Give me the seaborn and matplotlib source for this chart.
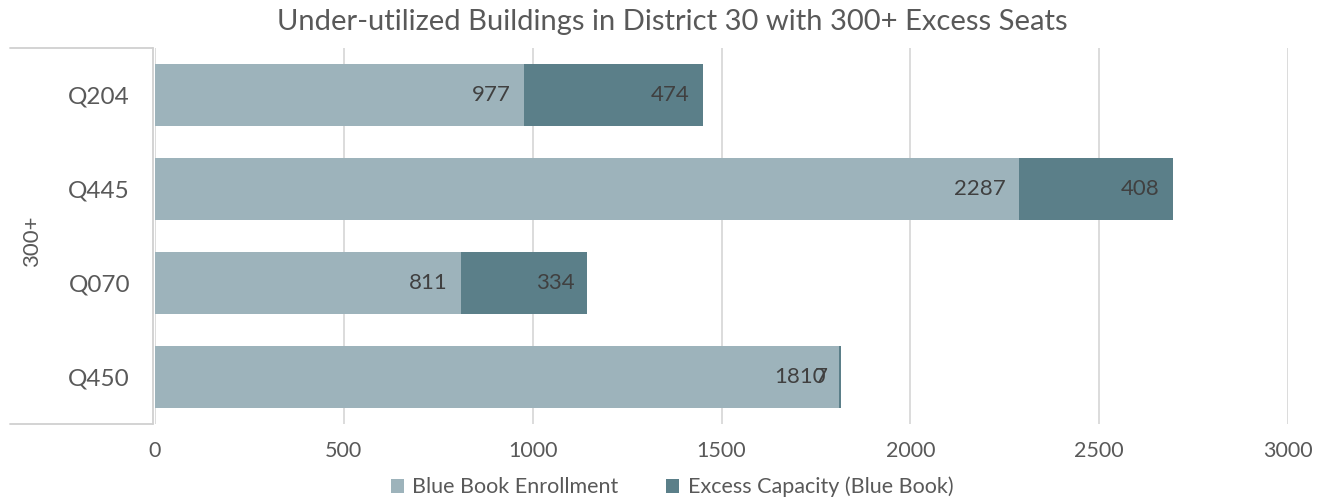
import matplotlib
matplotlib.use("Agg")
import matplotlib.pyplot as plt
import seaborn as sns
import pandas as pd
from matplotlib.lines import Line2D
from matplotlib.patches import Patch

schools = ["Q204", "Q445", "Q070", "Q450"]
enrollment = [977, 2287, 811, 1810]
excess = [474, 408, 334, 7]
group_label = "300+"
title = "Under-utilized Buildings in District 30 with 300+ Excess Seats"
series_names = ["Blue Book Enrollment", "Excess Capacity (Blue Book)"]
xticks = [0, 500, 1000, 1500, 2000, 2500, 3000]

light = "#9DB3BB"
dark = "#5B7F89"
grey_text = "#595959"
label_text = "#404040"
grid_col = "#D9D9D9"

sns.set_theme(style="white")
plt.rcParams["font.family"] = ["Lato", "DejaVu Sans"]

df = pd.DataFrame({"school": schools, "enrollment": enrollment, "excess": excess})
df["total"] = df["enrollment"] + df["excess"]

W, H = 1322, 504
fig = plt.figure(figsize=(W / 100, H / 100), dpi=100)
ax = fig.add_axes([155 / W, 1 - 424 / H, (1288 - 155) / W, (424 - 48) / H])

sns.barplot(data=df, y="school", x="total", color=dark, saturation=1, width=0.66,
            orient="h", ax=ax, order=schools, linewidth=0, edgecolor="none")
sns.barplot(data=df, y="school", x="enrollment", color=light, saturation=1, width=0.66,
            orient="h", ax=ax, order=schools, linewidth=0, edgecolor="none")

ax.set_xlim(0, 3000)
ax.set_ylim(len(schools) - 0.5, -0.5)
ax.set_xticks(xticks)
ax.set_xticklabels([str(t) for t in xticks])
ax.set_xlabel("")
ax.set_ylabel("")
for s in ax.spines.values():
    s.set_visible(False)
ax.set_axisbelow(True)
ax.xaxis.grid(True, color=grid_col, linewidth=1.3)
ax.yaxis.grid(False)
ax.tick_params(axis="x", length=0, pad=12, labelsize=15.5, labelcolor=grey_text)
ax.tick_params(axis="y", length=0, pad=18, labelsize=17.5, labelcolor=grey_text)

# data labels (inside end)
tot_cont, enr_cont = ax.containers[0], ax.containers[1]
for p, v in zip(enr_cont.patches, enrollment):
    ax.annotate(str(v), (p.get_width(), p.get_y() + p.get_height() / 2),
                xytext=(-9.5, 0), textcoords="offset points", ha="right", va="center",
                fontsize=16, color=label_text)
for p, v in zip(tot_cont.patches, excess):
    ax.annotate(str(v), (p.get_width(), p.get_y() + p.get_height() / 2),
                xytext=(-9.5, 0), textcoords="offset points", ha="right", va="center",
                fontsize=16, color=label_text)

# multi-level category bracket
lc = "#D0D0D0"
fig.add_artist(Line2D([10 / W, 153 / W], [1 - 48 / H, 1 - 48 / H], color=lc, lw=1.3))
fig.add_artist(Line2D([153 / W, 153 / W], [1 - 48 / H, 1 - 424 / H], color=lc, lw=1.3))
fig.add_artist(Line2D([10 / W, 153 / W], [1 - 424 / H, 1 - 424 / H], color=lc, lw=1.3))
fig.text(32 / W, 1 - 241 / H, group_label, rotation=90, ha="center", va="center",
         fontsize=16, color=grey_text)

fig.text(672 / W, 1 - 22 / H, title, ha="center", va="center",
         fontsize=21, color=grey_text)

handles = [Patch(facecolor=light, edgecolor="none"), Patch(facecolor=dark, edgecolor="none")]
fig.legend(handles, series_names, loc="center", bbox_to_anchor=(672 / W, 1 - 487 / H),
           ncol=2, frameon=False, fontsize=15.5, labelcolor=grey_text,
           handlelength=0.6, handleheight=0.6, handletextpad=0.4, columnspacing=2.2)

fig.savefig("out.png", dpi=100)
